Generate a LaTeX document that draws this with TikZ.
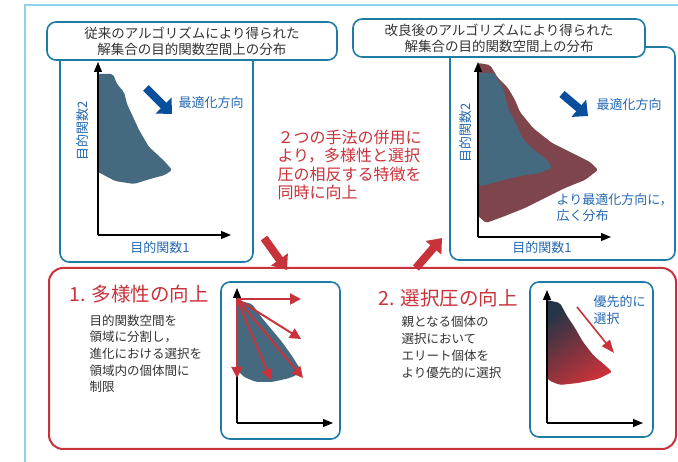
\documentclass[tikz,border=0pt]{standalone}
\usepackage{fontspec}
\setmainfont{Noto Sans CJK JP}
\usetikzlibrary{arrows.meta}
\definecolor{frameblue}{HTML}{8FD3EA}
\definecolor{boxblue}{HTML}{1E7BA3}
\definecolor{txtblue}{HTML}{2468B0}
\definecolor{arrblue}{HTML}{0A4F9C}
\definecolor{redc}{HTML}{C8323A}
\definecolor{blobteal}{HTML}{456A80}
\definecolor{blobred}{HTML}{7E464C}
\definecolor{darkgrad}{HTML}{253545}
\definecolor{txtgray}{HTML}{333333}
\tikzset{
  titlebox/.style={draw=boxblue, line width=1.6pt, rounded corners=9pt, fill=white},
  plotbox/.style={draw=boxblue, line width=1.6pt, rounded corners=9pt},
  redbox/.style={draw=redc, line width=2pt, rounded corners=14pt},
  axis/.style={line width=1.1pt, -{Triangle[width=8pt,length=10pt]}},
  bigred/.style={draw=redc, line width=8pt, -{Triangle[width=20pt,length=13pt]}},
  optarrow/.style={draw=arrblue, line width=8pt, -{Triangle[width=22pt,length=12pt]}},
  divarrow/.style={draw=redc, line width=2pt, -{Triangle[width=11pt,length=11pt]}},
  selarrow/.style={draw=redc, line width=1.6pt, -{Triangle[width=10pt,length=13pt]}},
  bluelab/.style={text=txtblue, font=\fontsize{13}{15}\selectfont},
  titletext/.style={font=\fontsize{13.5}{16}\selectfont, align=center, text=txtgray},
  bodytext/.style={font=\fontsize{12.5}{16.7}\selectfont, align=left, text=txtgray, anchor=north west},
  redtitle/.style={text=redc, font=\fontsize{19.5}{22}\selectfont, anchor=west},
}
\begin{document}
\begin{tikzpicture}[x=1pt,y=-1pt]
\useasboundingbox (0,0) rectangle (678,462);
% outer frame
\draw[frameblue, line width=1.2pt] (25,462) -- (25,5) -- (678,5);

% ---------- top-left panel ----------
\draw[plotbox] (60,50) -- (60,262) -- (253,262) -- (253,50);
\node[titlebox, minimum width=290pt, minimum height=38pt, inner sep=0pt] (tl) at (192,41) {};
\node[titletext] at (tl) {従来のアルゴリズムにより得られた\\解集合の目的関数空間上の分布};
\fill[blobteal, rounded corners=2pt] (98,74) -- (113,74) -- (117,84) -- (124,92) -- (127,104) -- (134,119) -- (139,130) -- (149,147) -- (160,157) -- (167,164) -- (172,170) -- (165,175) -- (150,179) -- (134,184) -- (115,181) -- (100,173) -- (98,172) -- cycle;
\coordinate (o1) at (98,235);
\coordinate (y1) at (98,62);
\coordinate (x1) at (231,235);
\draw[axis] (o1) -- (y1);
\draw[axis] (o1) -- (x1);
\node[bluelab] (xl1) at (160,248) {目的関数1};
\node[bluelab, rotate=90] (yl1) at (83,131) {目的関数2};
\coordinate (oa1s) at (146,88);
\coordinate (oa1e) at (172,114);
\draw[optarrow] (oa1s) -- (oa1e);
\node[bluelab, anchor=west] (ol1) at (175,103) {最適化方向};

% ---------- middle text ----------
\node[text=redc, font=\fontsize{16}{18.5}\selectfont, align=left, anchor=north west] (mid) at (274,126) {２つの手法の併用に\\より，多様性と選択\\圧の相反する特徴を\\同時に向上};

% ---------- top-right panel ----------
\draw[plotbox] (450,50) -- (450,260) -- (675,260) -- (675,47) -- (630,47);
\node[titlebox, minimum width=292pt, minimum height=38pt, inner sep=0pt] (tr) at (499,38) {};
\node[titletext] at (tr) {改良後のアルゴリズムにより得られた\\解集合の目的関数空間上の分布};
\fill[blobred, rounded corners=2pt] (478,63) -- (490,65) -- (498,78) -- (508,88) -- (515,100) -- (520,112) -- (533,128) -- (552,143) -- (572,153) -- (590,162) -- (598,170) -- (585,180) -- (565,188) -- (545,198) -- (525,208) -- (505,216) -- (486,223) -- (478,216) -- cycle;
\fill[blobteal, rounded corners=2pt] (478,73) -- (494,73) -- (503,88) -- (508,108) -- (516,124) -- (523,139) -- (534,150) -- (547,160) -- (552,168) -- (540,173) -- (520,176) -- (500,181) -- (482,186) -- (478,185) -- cycle;
\coordinate (o2) at (478,237);
\coordinate (y2) at (478,62);
\coordinate (x2) at (611,237);
\draw[axis] (o2) -- (y2);
\draw[axis] (o2) -- (x2);
\node[bluelab] (xl2) at (542,248) {目的関数1};
\node[bluelab, rotate=90] (yl2) at (466,133) {目的関数2};
\coordinate (oa2s) at (562,94);
\coordinate (oa2e) at (588,116);
\draw[optarrow] (oa2s) -- (oa2e);
\node[bluelab, anchor=west] (ol2) at (593,105) {最適化方向};
\node[bluelab, align=left, anchor=north west, font=\fontsize{13}{16.5}\selectfont] (wide) at (553,190) {より最適化方向に，\\広く分布};

% ---------- big red arrows ----------
\coordinate (ba1s) at (264,238);
\coordinate (ba1e) at (287,270);
\draw[bigred] (ba1s) -- (ba1e);
\coordinate (ba2s) at (416,268);
\coordinate (ba2e) at (442,238);
\draw[bigred] (ba2s) -- (ba2e);

% ---------- bottom red box ----------
\draw[redbox] (49,268) rectangle (676,449);

% section 1
\node[redtitle] (t1) at (66,294) {1. 多様性の向上};
\node[bodytext] (b1) at (86,311) {目的関数空間を\\領域に分割し，\\進化における選択を\\領域内の個体間に\\制限};
\draw[plotbox] (221,282) rectangle (340,439);
\fill[blobteal, rounded corners=2pt] (237,300) -- (252,304) -- (262,318) -- (272,330) -- (282,342) -- (292,356) -- (302,372) -- (290,378) -- (272,382) -- (256,382) -- (244,377) -- (237,370) -- cycle;
\coordinate (o3) at (237,423);
\coordinate (y3) at (237,288);
\coordinate (x3) at (333,423);
\draw[axis] (o3) -- (y3);
\draw[axis] (o3) -- (x3);
\coordinate (c3) at (237,299);
\coordinate (d1) at (301,299);
\coordinate (d2) at (301,339);
\coordinate (d3) at (303,378);
\coordinate (d4) at (271,380);
\coordinate (d5) at (237,378);
\foreach \d in {d1,d2,d3,d4,d5} \draw[divarrow] (c3) -- (\d);

% section 2
\node[redtitle] (t2) at (375,298) {2. 選択圧の向上};
\node[bodytext] (b2) at (398,313) {親となる個体の\\選択において\\エリート個体を\\より優先的に選択};
\draw[plotbox] (530,282) rectangle (653,437);
\shade[top color=darkgrad, bottom color=redc, shading angle=35, rounded corners=2pt] (547,300) -- (560,303) -- (567,316) -- (575,328) -- (583,342) -- (594,356) -- (606,366) -- (612,372) -- (598,379) -- (578,383) -- (560,385) -- (550,381) -- (547,378) -- cycle;
\coordinate (o4) at (547,423);
\coordinate (y4) at (547,290);
\coordinate (x4) at (643,423);
\draw[axis] (o4) -- (y4);
\draw[axis] (o4) -- (x4);
\coordinate (sa) at (577,307);
\coordinate (sb) at (614,353);
\draw[selarrow] (sa) -- (sb);
\node[bluelab, align=left, anchor=north west, font=\fontsize{13}{17}\selectfont] (pref) at (590,292) {優先的に\\選択};
\end{tikzpicture}
\end{document}
